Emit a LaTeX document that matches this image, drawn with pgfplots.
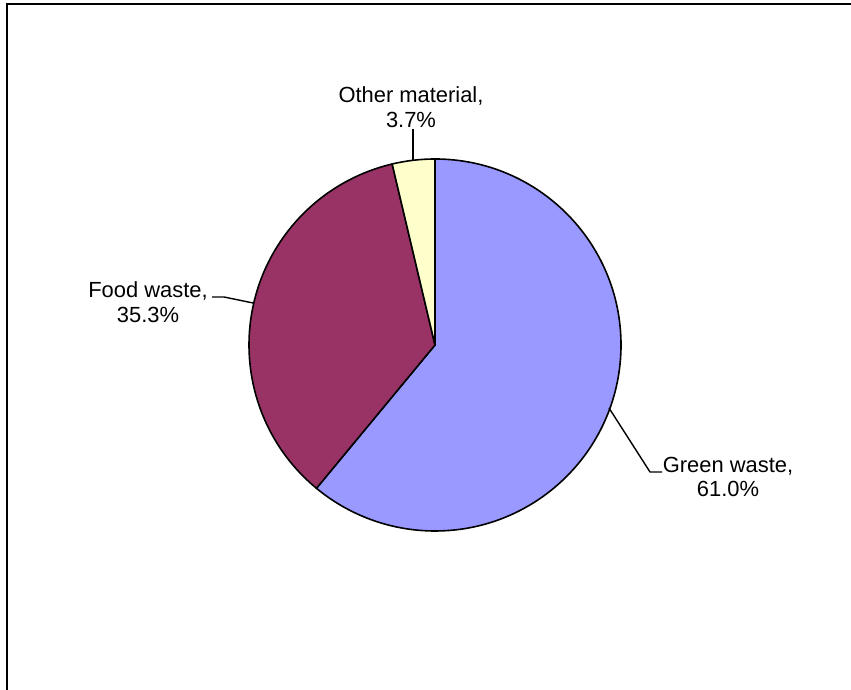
\documentclass[border=0pt]{standalone}
\usepackage{fontspec}
\setmainfont{Liberation Sans}
\usepackage{pgfplots}
\pgfplotsset{compat=1.18}
\definecolor{greenw}{HTML}{9999FF}
\definecolor{foodw}{HTML}{993366}
\definecolor{otherw}{HTML}{FFFFCC}
\begin{document}
\begin{tikzpicture}
\begin{axis}[width=851bp,height=690bp,scale only axis,
  xmin=0,xmax=851,ymin=0,ymax=690,hide axis,clip=false]
% frame
\draw[line width=2bp] (axis cs:7,0) |- (axis cs:851,686);
% pie slices: Green waste 61.0, Food waste 35.3, Other material 3.7
\filldraw[fill=greenw,draw=black,line width=1.6bp,line join=round]
  (axis cs:435,345) -- ++(90:186bp) arc[start angle=90, delta angle={-61.0*3.6}, radius=186bp] -- cycle;
\filldraw[fill=foodw,draw=black,line width=1.6bp,line join=round]
  (axis cs:435,345) -- ++({90-61.0*3.6}:186bp) arc[start angle={90-61.0*3.6}, delta angle={-35.3*3.6}, radius=186bp] -- cycle;
\filldraw[fill=otherw,draw=black,line width=1.6bp,line join=round]
  (axis cs:435,345) -- ++({90-(61.0+35.3)*3.6}:186bp) arc[start angle={90-(61.0+35.3)*3.6}, delta angle={-3.7*3.6}, radius=186bp] -- cycle;
% leader lines
\draw[line width=1.4bp] (axis cs:413,561) -- (axis cs:413,529);
\draw[line width=1.4bp] (axis cs:212,393) -- (axis cs:224,393) -- (axis cs:253,387);
\draw[line width=1.4bp] (axis cs:662,218) -- (axis cs:650,218) -- (axis cs:609,282);
% labels
\node[align=center,font=\fontsize{22}{25}\selectfont] at (axis cs:411,583) {Other material,\\3.7\%};
\node[align=center,font=\fontsize{22}{25}\selectfont] at (axis cs:148,388) {Food waste,\\35.3\%};
\node[align=center,font=\fontsize{22}{25}\selectfont] at (axis cs:728,213) {Green waste,\\61.0\%};
\end{axis}
\pgfresetboundingbox
\useasboundingbox (current axis.south west) rectangle (current axis.north east);
\end{tikzpicture}
\end{document}
